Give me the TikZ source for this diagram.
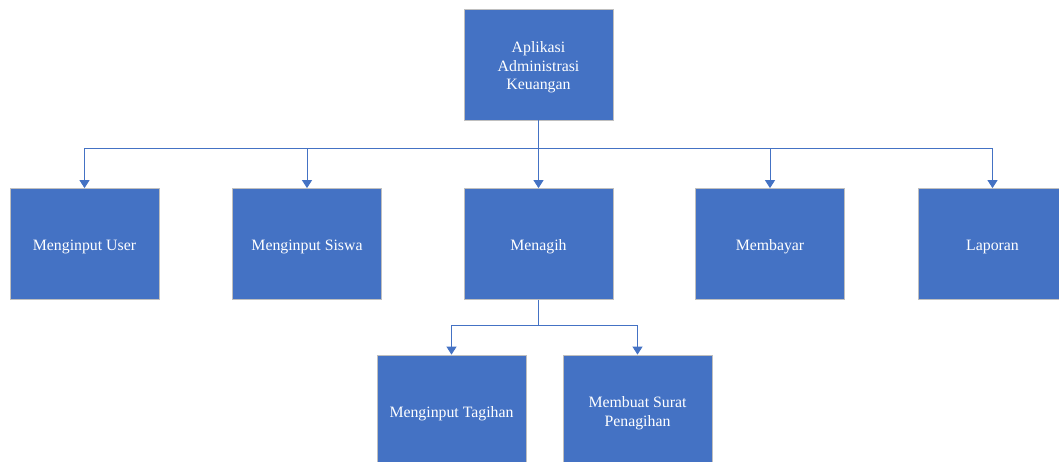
\documentclass[tikz,border=0pt]{standalone}
\usepackage{fontspec}
\setmainfont{Liberation Serif}
\usetikzlibrary{arrows.meta}
\definecolor{boxblue}{HTML}{4472C4}
\definecolor{boxedge}{HTML}{BFBFBF}
% box caption, drawn slightly below the geometric centre (reported size unchanged)
\newcommand{\blocktext}[1]{\raisebox{-3pt}[\height][\depth]{\begin{tabular}{@{}c@{}}#1\end{tabular}}}
\begin{document}
\begin{tikzpicture}[x=1pt,y=-1pt,
  block/.style={rectangle, fill=boxblue, draw=boxedge, line width=0.8pt,
    minimum width=149pt, minimum height=111pt, inner sep=2pt,
    text=white, font=\fontsize{15.8}{18.6}\selectfont},
  link/.style={draw=boxblue, line width=1pt,
    -{Triangle[width=10pt,length=8pt]}}]
  \clip (0,0) rectangle (1059,461);
  \useasboundingbox (0,0) rectangle (1059,461);
  \fill[white] (0,0) rectangle (1059,461);

  % top level
  \node[block] (app) at (538.5,64.5) {\blocktext{Aplikasi\\Administrasi\\Keuangan}};

  % second level
  \node[block] (user)     at (84.5,244)  {\blocktext{Menginput User}};
  \node[block] (siswa)    at (307,244)   {\blocktext{Menginput Siswa}};
  \node[block] (menagih)  at (538.5,244) {\blocktext{Menagih}};
  \node[block] (membayar) at (770,244)   {\blocktext{Membayar}};
  \node[block] (laporan)  at (992.5,244) {\blocktext{Laporan}};

  % third level
  \node[block] (tagihan) at (451.5,410.5) {\blocktext{Menginput Tagihan}};
  \node[block] (surat)   at (637.5,410.5) {\blocktext{Membuat Surat\\Penagihan}};

  % bus lines
  \coordinate (busA) at (0,148);
  \coordinate (busB) at (0,325);

  \foreach \t in {user,siswa,membayar,laporan}
    \draw[link] (app.south) -- (app.south |- busA) -| (\t.north);
  \draw[link] (app.south) -- (menagih.north);

  \foreach \t in {tagihan,surat}
    \draw[link] (menagih.south) -- (menagih.south |- busB) -| (\t.north);
\end{tikzpicture}
\end{document}
